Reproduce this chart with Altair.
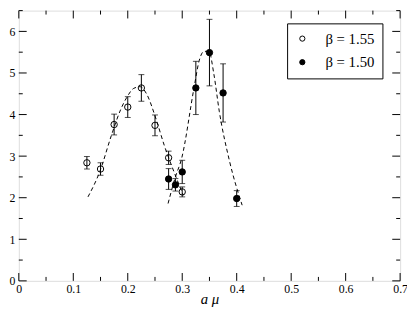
import altair as alt
import pandas as pd

# ---- data ----
x155 = [0.125, 0.15, 0.175, 0.2, 0.225, 0.25, 0.275, 0.3]
y155 = [2.84, 2.69, 3.76, 4.18, 4.64, 3.74, 2.96, 2.14]
e155 = [0.15, 0.15, 0.25, 0.25, 0.32, 0.25, 0.16, 0.12]

x150 = [0.275, 0.2875, 0.3, 0.325, 0.35, 0.375, 0.4]
y150 = [2.45, 2.31, 2.62, 4.64, 5.49, 4.52, 1.98]
e150 = [0.25, 0.15, 0.28, 0.64, 0.80, 0.70, 0.19]

fitA_x = [0.127, 0.149, 0.170, 0.187, 0.199, 0.211, 0.223, 0.234, 0.252, 0.267, 0.287, 0.302]
fitA_y = [2.02, 2.64, 3.50, 4.12, 4.43, 4.63, 4.67, 4.51, 3.89, 3.26, 2.55, 2.06]
fitB_x = [0.274, 0.287, 0.299, 0.322, 0.331, 0.340, 0.349, 0.358, 0.368, 0.387, 0.410]
fitB_y = [1.86, 2.48, 2.95, 4.67, 5.29, 5.52, 5.52, 4.98, 4.08, 2.87, 1.82]

labels = ["β = 1.55", "β = 1.50"]

x_major = [0.0, 0.1, 0.2, 0.3, 0.4, 0.5, 0.6, 0.7]
x_minor = [0.05, 0.15, 0.25, 0.35, 0.45, 0.55, 0.65]
y_major = [0, 1, 2, 3, 4, 5, 6]
y_minor = [0.5, 1.5, 2.5, 3.5, 4.5, 5.5, 6.5]

W, H = 388, 275
FONT = "Liberation Serif"

pts = pd.DataFrame({
    "x": x155 + x150,
    "y": y155 + y150,
    "lo": [v - e for v, e in zip(y155, e155)] + [v - e for v, e in zip(y150, e150)],
    "hi": [v + e for v, e in zip(y155, e155)] + [v + e for v, e in zip(y150, e150)],
    "beta": [labels[0]] * len(x155) + [labels[1]] * len(x150),
})
fits = pd.DataFrame({
    "x": fitA_x + fitB_x,
    "y": fitA_y + fitB_y,
    "curve": ["A"] * len(fitA_x) + ["B"] * len(fitB_x),
    "order": list(range(len(fitA_x))) + list(range(len(fitB_x))),
})
xt = pd.DataFrame({"x": x_major + x_minor,
                   "len": [8] * len(x_major) + [4] * len(x_minor)})
yt = pd.DataFrame({"y": y_major + y_minor,
                   "len": [8] * len(y_major) + [4] * len(y_minor)})

xscale = alt.Scale(domain=[0, 0.7], nice=False, zero=False)
yscale = alt.Scale(domain=[0, 6.5], nice=False, zero=False)
xaxis = alt.Axis(values=x_major, format=".1~f", ticks=False, tickSize=0, grid=False,
                 domain=False, labelPadding=3, labelFont=FONT, labelFontSize=12,
                 labelColor="black", title="a μ", titleFont=FONT, titleFontSize=15,
                 titleFontStyle="italic", titleFontWeight="normal", titleColor="black",
                 titlePadding=-3, labelFlush=False)
yaxis = alt.Axis(values=y_major, ticks=False, tickSize=0, grid=False, domain=False,
                 labelPadding=4, labelFont=FONT, labelFontSize=12, labelColor="black",
                 title=None)

X = alt.X("x:Q", scale=xscale, axis=xaxis)
Y = alt.Y("y:Q", scale=yscale, axis=yaxis)

curves = alt.Chart(fits).mark_line(color="black", strokeWidth=1, strokeDash=[4, 3],
                                   interpolate="monotone").encode(
    x=X, y=Y, detail="curve:N", order="order:Q")

bars = alt.Chart(pts).mark_rule(color="black", strokeWidth=1).encode(
    x=X, y=alt.Y("lo:Q", scale=yscale, axis=yaxis), y2="hi:Q")
cap_lo = alt.Chart(pts).mark_tick(color="black", orient="horizontal", size=6,
                                  thickness=1).encode(
    x=X, y=alt.Y("lo:Q", scale=yscale, axis=yaxis))
cap_hi = alt.Chart(pts).mark_tick(color="black", orient="horizontal", size=6,
                                  thickness=1).encode(
    x=X, y=alt.Y("hi:Q", scale=yscale, axis=yaxis))

points = alt.Chart(pts).mark_point(shape="circle", filled=True, stroke="black",
                                   strokeWidth=1, size=42, opacity=1,
                                   fillOpacity=1).encode(
    x=X, y=Y,
    fill=alt.Fill("beta:N",
                  scale=alt.Scale(domain=labels, range=["transparent", "black"]),
                  legend=alt.Legend(title=None, orient="none", legendX=273, legendY=13,
                                    strokeColor="black", fillColor="white", padding=8,
                                    symbolType="circle", symbolSize=28,
                                    symbolStrokeColor="black", symbolStrokeWidth=1,
                                    labelFont=FONT, labelFontSize=15, labelColor="black",
                                    labelOffset=16, rowPadding=8, cornerRadius=0)))

bottom_ticks = alt.Chart(xt).mark_rule(color="black", strokeWidth=1).encode(
    x=X, y=alt.value(H), y2=alt.YValue(alt.ExprRef(f"{H} - datum.len")))
top_ticks = alt.Chart(xt).mark_rule(color="black", strokeWidth=1).encode(
    x=X, y=alt.value(0), y2=alt.YValue(alt.ExprRef("datum.len")))
left_ticks = alt.Chart(yt).mark_rule(color="black", strokeWidth=1).encode(
    y=Y, x=alt.value(0), x2=alt.XValue(alt.ExprRef("datum.len")))
right_ticks = alt.Chart(yt).mark_rule(color="black", strokeWidth=1).encode(
    y=Y, x=alt.value(W), x2=alt.XValue(alt.ExprRef(f"{W} - datum.len")))

chart = alt.layer(
    curves, bars, cap_lo, cap_hi, points,
    bottom_ticks, top_ticks, left_ticks, right_ticks
).properties(
    width=W, height=H,
    autosize=alt.AutoSizeParams(type="none"),
    padding={"left": 11, "top": 0, "right": 7, "bottom": 27},
).configure_view(stroke="black", strokeWidth=1).configure(
    background="white", font=FONT
).configure_axis(labelFont=FONT, titleFont=FONT).configure_legend(labelFont=FONT)

chart.save("out.html", embed_options={"renderer": "svg", "actions": False})
